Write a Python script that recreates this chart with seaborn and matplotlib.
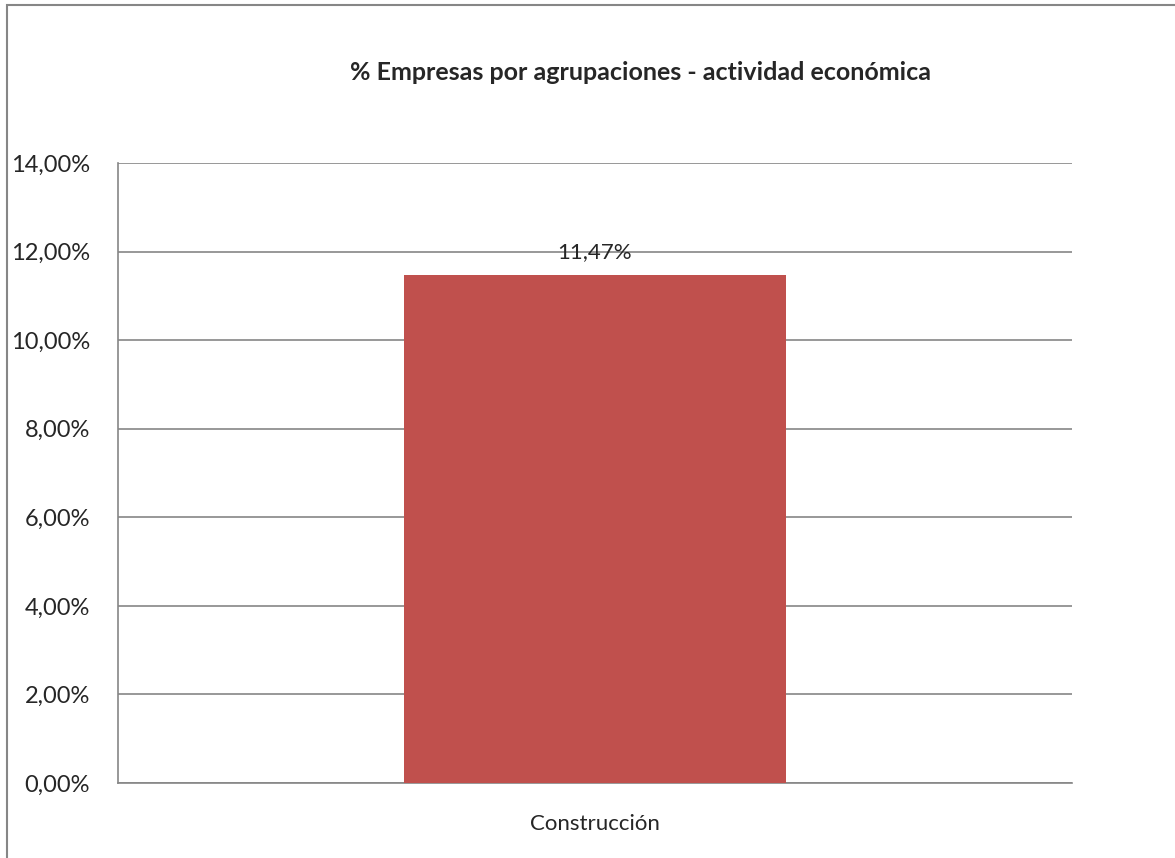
import numpy as np
import matplotlib
matplotlib.use("Agg")
import matplotlib.pyplot as plt
import matplotlib.patches as mpatches
import pandas as pd
import seaborn as sns

# datos
categorias = ["Construcción"]
porcentajes = [11.47]
ticks_y = [0, 2, 4, 6, 8, 10, 12, 14]

sns.set_style("white")
plt.rcParams['font.family'] = ['Lato', 'DejaVu Sans']

gris = "#868686"
df = pd.DataFrame({"actividad": categorias, "pct": porcentajes})

fig = plt.figure(figsize=(11.75, 8.58), dpi=100)
ax = fig.add_axes([118/1175, 75/858, (1072-118)/1175, (783-163)/858])

sns.barplot(data=df, x="actividad", y="pct", color="#C0504D", saturation=1,
            width=0.4, linewidth=0, ax=ax, zorder=3)

ax.set_ylim(0, 14)
ax.set_xlim(-0.5, 0.5)
ax.set_yticks(ticks_y)
ax.set_yticklabels([f"{t:.2f}%".replace(".", ",") for t in ticks_y], fontsize=17)
ax.yaxis.grid(True, color=gris, linewidth=1.2, zorder=0)
ax.set_axisbelow(True)
ax.set_xlabel("")
ax.set_ylabel("")
ax.set_xticks([-0.5, 0.5])
ax.set_xticklabels(["", ""])
ax.tick_params(axis="x", length=9, width=1.2, color=gris, direction="out")
ax.tick_params(axis="y", length=9, width=1.2, color=gris, direction="out", pad=11)
ax.text(0, -0.7, categorias[0], ha="center", va="top", fontsize=16,
        transform=ax.transData)

for s in ["top", "right"]:
    ax.spines[s].set_visible(False)
for s in ["left", "bottom"]:
    ax.spines[s].set_color(gris)
    ax.spines[s].set_linewidth(1.2)

for i, v in enumerate(porcentajes):
    ax.text(i, v + 0.3, f"{v:.2f}%".replace(".", ","), ha="center", va="bottom",
            fontsize=16, zorder=5)

fig.text(640/1175, 1 - 72/858, "% Empresas por agrupaciones - actividad económica",
         ha="center", va="center", fontsize=18, fontweight="bold")

# marco exterior
fig.patches.append(mpatches.Rectangle((7/1175, -0.1), 1.2, 1 - 5/858 + 0.1,
                                      transform=fig.transFigure, fill=False,
                                      edgecolor=gris, linewidth=1.5))

fig.savefig("out.png", dpi=100)
